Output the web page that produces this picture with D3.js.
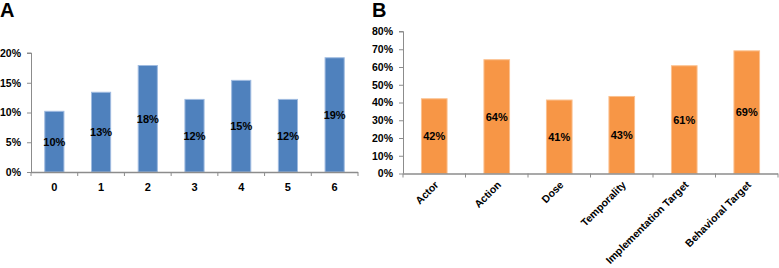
<!DOCTYPE html>
<html><head><meta charset="utf-8">
<script src="https://cdn.jsdelivr.net/npm/d3@7"></script>
<style>body{margin:0;background:#fff}svg{display:block}text{font-family:"Liberation Sans",Arial,sans-serif;font-weight:bold;fill:#000}</style>
</head><body>
<svg id="c" width="779" height="268"></svg>
<script>
const catsA = ["0","1","2","3","4","5","6"];
const valsA = [10.2, 13.4, 17.9, 12.2, 15.4, 12.2, 19.2];
const ticksA = [0, 5, 10, 15, 20];
const catsB = ["Actor","Action","Dose","Temporality","Implementation Target","Behavioral Target"];
const valsB = [42.1, 64.1, 41.4, 43.4, 60.7, 69.1];
const ticksB = [0, 10, 20, 30, 40, 50, 60, 70, 80];

const svg = d3.select("#c");
const axisColor = "#8c8c8c";

function panel(opts){
  const {cats, vals, ticks, x0, x1, y0, y1, max, fill, stroke, rotate, letter, lx} = opts;
  const g = svg.append("g");
  const x = d3.scaleBand().domain(cats).range([x0, x1]).padding(0);
  const y = d3.scaleLinear().domain([0, max]).range([y0, y1]);
  const bw = x.bandwidth()*0.41;
  // bars
  g.selectAll("rect.bar").data(vals).join("rect")
    .attr("x", (d,i)=> x(cats[i]) + x.bandwidth()/2 - bw/2)
    .attr("y", d=> y(d)).attr("width", bw).attr("height", d=> y(0)-y(d))
    .attr("fill", fill).attr("stroke", stroke).attr("stroke-width", 1);
  // data labels
  g.selectAll("text.dl").data(vals).join("text")
    .attr("x", (d,i)=> x(cats[i]) + x.bandwidth()/2)
    .attr("y", d=> (y(d)+y(0))/2 + 4)
    .attr("text-anchor","middle").attr("font-size", 11)
    .text(d=> Math.round(d) + "%");
  // y axis
  const ya = d3.axisLeft(y).tickValues(ticks).tickSize(4).tickPadding(6).tickFormat(d=> d+"%");
  const yg = g.append("g").attr("transform", `translate(${x0},0)`).call(ya);
  yg.select(".domain").attr("stroke", axisColor).attr("d", `M-4,${y(max)}H0.5V${y(0)}`);
  yg.selectAll(".tick line").attr("stroke", axisColor);
  yg.selectAll(".tick text").attr("font-size", 10.5).attr("font-family", null).attr("fill","#000");
  // x axis
  const bounds = cats.map(c=> x(c)).concat([x1]);
  g.append("line").attr("x1", x0).attr("x2", x1).attr("y1", y(0)+0.5).attr("y2", y(0)+0.5)
    .attr("stroke", axisColor).attr("stroke-width", 1.5);
  g.selectAll("line.xt").data(bounds).join("line")
    .attr("x1", d=>d).attr("x2", d=>d).attr("y1", y(0)).attr("y2", y(0)+4)
    .attr("stroke", axisColor);
  const xl = g.selectAll("text.xl").data(cats).join("text").attr("font-size", rotate ? 10.5 : 11).text(d=>d);
  if (rotate) {
    xl.attr("text-anchor","end")
      .attr("transform", d=> `translate(${x(d)+x.bandwidth()/2+5},${y(0)+12}) rotate(-45)`);
  } else {
    xl.attr("text-anchor","middle").attr("x", d=> x(d)+x.bandwidth()/2).attr("y", y(0)+19);
  }
  svg.append("text").attr("x", lx).attr("y", 17).attr("font-size", 20).text(letter);
}

panel({cats:catsA, vals:valsA, ticks:ticksA, x0:31, x1:358, y0:172, y1:53, max:20,
  fill:"#4f81bd", stroke:"#9fbbe0", rotate:false, letter:"A", lx:0});
panel({cats:catsB, vals:valsB, ticks:ticksB, x0:403, x1:778, y0:173.5, y1:31.5, max:80,
  fill:"#f79646", stroke:"#fbc08e", rotate:true, letter:"B", lx:372});
</script>
</body></html>
